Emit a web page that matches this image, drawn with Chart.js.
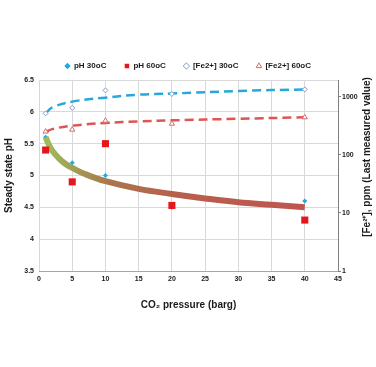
<!DOCTYPE html>
<html>
<head>
<meta charset="utf-8">
<script src="https://cdn.jsdelivr.net/npm/chart.js@4.4.1/dist/chart.umd.min.js"></script>
<style>
  body { margin: 0; background: #fff; }
</style>
</head>
<body>
<canvas id="chart" width="376" height="367"></canvas>
<script>
// measured points
const pressure = [1, 5, 10, 20, 40];
const ph30 = [5.6, 5.2, 5.0, 4.5, 4.6];
const ph60 = [5.4, 4.9, 5.5, 4.53, 4.3];
const fe30 = [515, 640, 1280, 1110, 1330];
const fe60 = [250, 270, 385, 342, 440];

// trend lines for [Fe2+]
const trendX = [1, 2, 5, 10, 15, 20, 30, 40];
const fe30Trend = [515, 650, 820, 960, 1080, 1130, 1250, 1330];
const fe60Trend = [246, 276, 316, 352, 375, 390, 416, 440];

// model pH curve
const modelX = [1, 1.5, 2, 3, 4, 5, 7, 10, 15, 20, 25, 30, 35, 40];
const modelPh = [5.60, 5.48, 5.39, 5.27, 5.18, 5.12, 5.02, 4.91, 4.79, 4.71, 4.64, 4.58, 4.54, 4.50];

const rightTicks = [1, 10, 100, 1000];

const pairs = (xs, ys) => xs.map((x, i) => ({ x, y: ys[i] }));
const FONT = "'Liberation Sans', Arial, sans-serif";

function curveColor(context) {
  const chart = context.chart;
  if (!chart.chartArea) return '#9dbd5b';
  const xs = chart.scales.x;
  const g = chart.ctx.createLinearGradient(xs.getPixelForValue(1), 0, xs.getPixelForValue(40), 0);
  g.addColorStop(0, '#9dbd5b');
  g.addColorStop(0.1, '#a2a055');
  g.addColorStop(0.25, '#ab754d');
  g.addColorStop(0.5, '#b6604c');
  g.addColorStop(1, '#bf5550');
  return g;
}

// right axis title reads bottom to top
const rightTitle = {
  id: 'rightTitle',
  afterDraw(chart) {
    const ctx = chart.ctx;
    ctx.save();
    ctx.translate(367, 157);
    ctx.rotate(-Math.PI / 2);
    ctx.font = 'bold 10px ' + FONT;
    ctx.fillStyle = '#1a1a1a';
    ctx.textAlign = 'center';
    ctx.textBaseline = 'middle';
    ctx.fillText('[Fe²⁺], ppm (Last measured value)', 0, 0);
    ctx.restore();
  }
};

const ctx = document.getElementById('chart').getContext('2d');
new Chart(ctx, {
  type: 'scatter',
  data: {
    datasets: [
      {
        label: 'pH 30oC',
        data: pairs(pressure, ph30),
        yAxisID: 'y',
        pointStyle: 'rectRot',
        pointRadius: 2.5,
        backgroundColor: '#22a9dd',
        borderColor: '#22a9dd',
        borderWidth: 0,
        order: 3
      },
      {
        label: 'pH 60oC',
        data: pairs(pressure, ph60),
        yAxisID: 'y',
        pointStyle: 'rect',
        pointRadius: 5,
        backgroundColor: '#e5161c',
        borderColor: '#e5161c',
        borderWidth: 0,
        order: 1
      },
      {
        label: '[Fe2+] 30oC',
        data: pairs(pressure, fe30),
        yAxisID: 'y2',
        pointStyle: 'rectRot',
        pointRadius: 2.5,
        backgroundColor: '#ffffff',
        borderColor: '#7f9cc6',
        borderWidth: 1,
        order: 4
      },
      {
        label: '[Fe2+] 60oC',
        data: pairs(pressure, fe60),
        yAxisID: 'y2',
        pointStyle: 'triangle',
        pointRadius: 3,
        backgroundColor: '#ffffff',
        borderColor: '#d26b6b',
        borderWidth: 1,
        order: 5
      },
      {
        label: 'fe30 trend',
        type: 'line',
        data: pairs(trendX, fe30Trend),
        yAxisID: 'y2',
        borderColor: '#27a8dc',
        borderWidth: 2.5,
        borderDash: [9, 5],
        pointRadius: 0,
        tension: 0.4,
        fill: false,
        order: 6
      },
      {
        label: 'fe60 trend',
        type: 'line',
        data: pairs(trendX, fe60Trend),
        yAxisID: 'y2',
        borderColor: '#df5454',
        borderWidth: 2.5,
        borderDash: [9, 5],
        pointRadius: 0,
        tension: 0.4,
        fill: false,
        order: 7
      },
      {
        label: 'model',
        type: 'line',
        data: pairs(modelX, modelPh),
        yAxisID: 'y',
        borderColor: curveColor,
        borderWidth: 6,
        pointRadius: 0,
        tension: 0.4,
        fill: false,
        order: 2
      }
    ]
  },
  options: {
    responsive: false,
    animation: false,
    layout: { padding: { top: 44, bottom: 56, left: 0, right: 0 } },
    plugins: {
      tooltip: { enabled: false },
      legend: {
        position: 'top',
        labels: {
          usePointStyle: true,
          boxWidth: 5,
          boxHeight: 4.5,
          padding: 18,
          color: '#1a1a1a',
          font: { family: FONT, size: 8, weight: 'bold' },
          filter: item => item.datasetIndex < 4,
          sort: (a, b) => a.datasetIndex - b.datasetIndex
        }
      }
    },
    scales: {
      x: {
        type: 'linear',
        min: 0,
        max: 45,
        ticks: { stepSize: 5, padding: 4, color: '#1a1a1a', font: { family: FONT, size: 7, weight: 'bold' } },
        grid: { color: '#d9d9d9', drawTicks: false },
        border: { color: '#a6a6a6' },
        title: {
          display: true,
          text: 'CO₂ pressure (barg)',
          color: '#1a1a1a',
          font: { family: FONT, size: 10, weight: 'bold' },
          padding: { top: 14, bottom: 0 }
        },
        afterFit: s => { s.height = 40; }
      },
      y: {
        position: 'left',
        min: 3.5,
        max: 6.5,
        ticks: {
          stepSize: 0.5,
          padding: 5,
          color: '#1a1a1a',
          font: { family: FONT, size: 7, weight: 'bold' },
          callback: v => String(Number(v))
        },
        grid: { color: '#d9d9d9', drawTicks: false },
        border: { display: false },
        title: {
          display: true,
          text: 'Steady state pH',
          color: '#1a1a1a',
          font: { family: FONT, size: 10, weight: 'bold' },
          padding: 3
        },
        afterFit: s => { s.width = 39; }
      },
      y2: {
        type: 'logarithmic',
        position: 'right',
        min: 1,
        max: 1930,
        afterBuildTicks: s => { s.ticks = rightTicks.map(v => ({ value: v })); },
        ticks: {
          padding: 1,
          color: '#1a1a1a',
          font: { family: FONT, size: 7, weight: 'bold' },
          callback: v => String(v)
        },
        grid: { drawOnChartArea: false, color: '#808080', tickLength: 3 },
        border: { color: '#808080' },
        afterFit: s => { s.width = 38; }
      }
    }
  },
  plugins: [rightTitle]
});
</script>
</body>
</html>
